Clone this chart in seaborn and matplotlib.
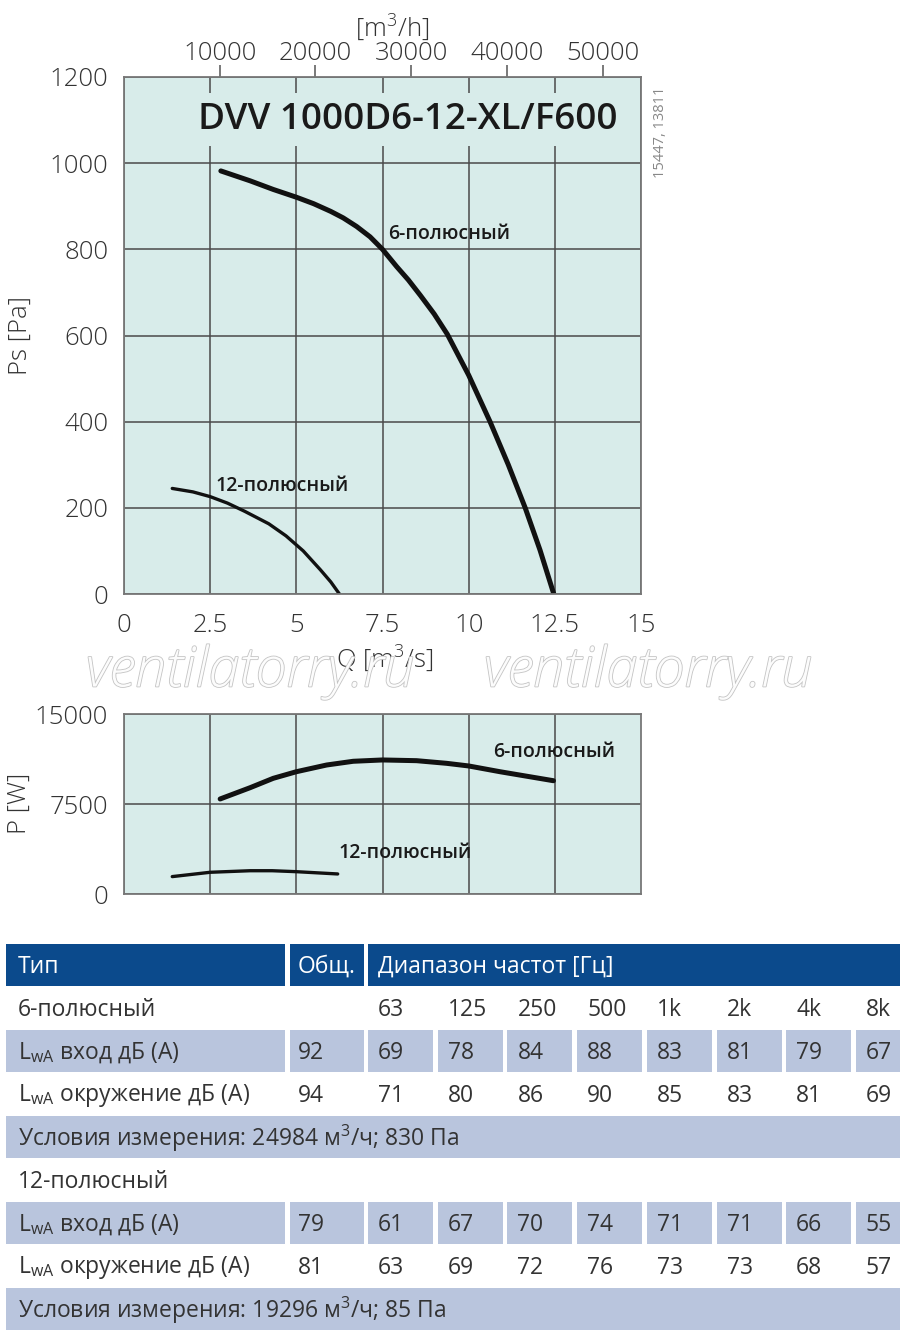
import numpy as np
import pandas as pd
import matplotlib
matplotlib.use("Agg")
import matplotlib.pyplot as plt
import matplotlib.patheffects as pe
from matplotlib.patches import Rectangle
import seaborn as sns

# Кривые Ps(Q)
q6 = [2.81, 3.66, 4.33, 5.0, 5.5, 6.0, 6.36, 6.75, 7.14, 7.5, 7.91, 8.25, 8.6, 9.0, 9.38, 10.0, 10.62, 11.15, 11.64, 12.07, 12.47]
ps6 = [982, 959, 939, 921, 906, 888, 873, 853, 829, 800, 760, 729, 693, 650, 603, 508, 400, 300, 200, 102, 0]
q12 = [1.4, 2.0, 2.5, 3.0, 3.5, 4.2, 4.7, 5.2, 5.7, 6.0, 6.25]
ps12 = [245, 237, 226, 211, 192, 163, 135, 100, 56, 28, 0]

# Мощность P(Q)
q6p = [2.79, 3.66, 4.33, 5.0, 5.88, 6.65, 7.5, 8.49, 9.36, 10.0, 10.91, 12.46]
p6 = [7920, 8860, 9640, 10190, 10750, 11060, 11170, 11110, 10890, 10670, 10190, 9440]
q12p = [1.4, 2.5, 3.66, 4.3, 5.0, 6.2]
p12 = [1450, 1810, 1940, 1940, 1860, 1670]

# Таблица шума
freqs = ["63", "125", "250", "500", "1k", "2k", "4k", "8k"]
six_in_total, six_in = 92, [69, 78, 84, 88, 83, 81, 79, 67]
six_out_total, six_out = 94, [71, 80, 86, 90, 85, 83, 81, 69]
twelve_in_total, twelve_in = 79, [61, 67, 70, 74, 71, 71, 66, 55]
twelve_out_total, twelve_out = 81, [63, 69, 72, 76, 73, 73, 68, 57]
cond6 = "Условия измерения: 24984 м$^\\mathregular{3}$/ч; 830 Па"
cond12 = "Условия измерения: 19296 м$^\\mathregular{3}$/ч; 85 Па"

sns.set_style("white")
plt.rcParams["font.family"] = ["Open Sans", "DejaVu Sans"]
plt.rcParams["mathtext.fontset"] = "custom"
plt.rcParams["mathtext.rm"] = "Open Sans"

face = "#d8ecea"
gridc = "#4a4a4a"
textc = "#333333"
blue = "#0b4a8c"
light = "#b9c5dd"
tick_fs = 18.5

fig = plt.figure(figsize=(9, 13.35), dpi=100)

def px_axes(l, t, r, b):
    W, H = 900, 1335
    return fig.add_axes([l / W, 1 - b / H, (r - l) / W, (b - t) / H])

def style_axes(ax):
    ax.set_facecolor(face)
    ax.grid(True, color=gridc, lw=1.1)
    ax.set_axisbelow(True)
    for s in ax.spines.values():
        s.set_color("#777777")
        s.set_linewidth(1.3)
    ax.tick_params(direction="out", length=8, width=1.1, color="#555555",
                   labelsize=tick_fs, labelcolor=textc)
    for lab in ax.get_xticklabels() + ax.get_yticklabels():
        lab.set_fontweight("light")

# ---- Ps chart
ax1 = px_axes(124, 77, 641, 594)
sns.lineplot(x=q6, y=ps6, ax=ax1, sort=False, color="#111111", lw=3.6)
sns.lineplot(x=q12, y=ps12, ax=ax1, sort=False, color="#111111", lw=2.4)
ax1.set_xlim(0, 15)
ax1.set_ylim(0, 1200)
ax1.set_xticks([0, 2.5, 5, 7.5, 10, 12.5, 15])
ax1.set_xticklabels(["0", "2.5", "5", "7.5", "10", "12.5", "15"])
ax1.set_yticks(range(0, 1201, 200))
style_axes(ax1)
ax1.tick_params(axis="x", pad=6)
ax1.set_xlabel("Q [m$^\\mathregular{3}$/s]", fontsize=tick_fs, color=textc, fontweight="light")
ax1.xaxis.set_label_coords(0.505, -0.095)
ax1.set_ylabel("Ps [Pa]", fontsize=tick_fs, color=textc, fontweight="light")
ax1.yaxis.set_label_coords(-0.176, 0.5)

top = ax1.secondary_xaxis("top", functions=(lambda q: q * 3600, lambda h: h / 3600))
top.set_xticks([10000, 20000, 30000, 40000, 50000])
top.tick_params(direction="out", length=9, width=1.1, color="#555555",
                labelsize=tick_fs, labelcolor=textc, pad=-1)
for lab in top.get_xticklabels():
    lab.set_fontweight("light")
top.spines["top"].set_visible(False)

ax1.text(0.9536, 0.917, "DVV 1000D6-12-XL/F600", transform=ax1.transAxes,
         ha="right", va="center", fontsize=26.5, fontweight="semibold", color="#1a1a1a",
         bbox=dict(facecolor=face, edgecolor="none", pad=6), zorder=3)
ax1.text(7.66, 836, "6-полюсный", fontsize=14, fontweight="semibold", color="#1a1a1a",
         va="center", ha="left")
ax1.text(2.64, 251, "12-полюсный", fontsize=14, fontweight="semibold", color="#1a1a1a",
         va="center", ha="left")

fig.text(392 / 900, 1 - 27 / 1335, "[m$^\\mathregular{3}$/h]", ha="center", va="center",
         fontsize=tick_fs, color=textc, fontweight="light")
fig.text(660 / 900, 1 - 132 / 1335, "15447, 13811", rotation=90, ha="center", va="center",
         fontsize=10.5, color="#888888")

# ---- P chart
ax2 = px_axes(124, 714, 641, 894)
sns.lineplot(x=q6p, y=p6, ax=ax2, sort=False, color="#111111", lw=3.6)
sns.lineplot(x=q12p, y=p12, ax=ax2, sort=False, color="#111111", lw=2.4)
ax2.set_xlim(0, 15)
ax2.set_ylim(0, 15000)
ax2.set_xticks([0, 2.5, 5, 7.5, 10, 12.5])
ax2.set_xticklabels([])
ax2.set_yticks([0, 7500, 15000])
style_axes(ax2)
ax2.set_xlabel("")
ax2.set_ylabel("P [W]", fontsize=tick_fs, color=textc, fontweight="light")
ax2.yaxis.set_label_coords(-0.178, 0.506)
ax2.text(10.71, 11833, "6-полюсный", fontsize=14, fontweight="semibold", color="#1a1a1a",
         va="center", ha="left")
ax2.text(6.21, 3417, "12-полюсный", fontsize=14, fontweight="semibold", color="#1a1a1a",
         va="center", ha="left")

# водяной знак
for xc in (250, 648):
    fig.text(xc / 900, 1 - 672 / 1335, "ventilatorry.ru", ha="center", va="center",
             fontsize=40, style="italic", fontweight="light", color="#fcfcfc",
             path_effects=[pe.withStroke(linewidth=1.2, foreground="#c4c4c4")])

# ---- таблица
axt = fig.add_axes([0, 0, 1, 1], zorder=-1)
axt.set_xlim(0, 900)
axt.set_ylim(1335, 0)
axt.axis("off")

col_left = [6, 290] + [368 + i * 69.7 for i in range(8)]
col_w = [279, 74] + [65] * 8
row_top = [944 + k * 43 for k in range(9)]
row_h = 41.5
fs = 16.5

def cell(x, y, w, color):
    axt.add_patch(Rectangle((x, y), w, row_h, facecolor=color, edgecolor="none"))

def put(x, y, s, color=textc):
    axt.text(x, y + row_h / 2 + 2, s, fontsize=fs, color=color, ha="left", va="center")

# шапка
cell(col_left[0], row_top[0], col_w[0], blue)
cell(col_left[1], row_top[0], col_w[1], blue)
cell(col_left[2], row_top[0], 900 - col_left[2], blue)
put(18, row_top[0], "Тип", "white")
put(298, row_top[0], "Общ.", "white")
put(378, row_top[0], "Диапазон частот [Гц]", "white")

lwa_in = "L$_\\mathregular{wA}$ вход дБ (A)"
lwa_out = "L$_\\mathregular{wA}$ окружение дБ (A)"

def block(r0, title, tin, vin, tout, vout, cond, show_freqs):
    put(18, row_top[r0], title)
    if show_freqs:
        for i, f in enumerate(freqs):
            put(col_left[i + 2] + 10, row_top[r0], f)
    r = r0 + 1
    for j in range(10):
        cell(col_left[j], row_top[r], col_w[j], light)
    put(18, row_top[r], lwa_in)
    put(col_left[1] + 8, row_top[r], str(tin))
    for i, v in enumerate(vin):
        put(col_left[i + 2] + 10, row_top[r], str(v))
    r += 1
    put(18, row_top[r], lwa_out)
    put(col_left[1] + 8, row_top[r], str(tout))
    for i, v in enumerate(vout):
        put(col_left[i + 2] + 10, row_top[r], str(v))
    r += 1
    cell(col_left[0], row_top[r], 900 - col_left[0], light)
    put(18, row_top[r], cond)

block(1, "6-полюсный", six_in_total, six_in, six_out_total, six_out, cond6, True)
block(5, "12-полюсный", twelve_in_total, twelve_in, twelve_out_total, twelve_out, cond12, False)

fig.savefig("out.png", dpi=100)
